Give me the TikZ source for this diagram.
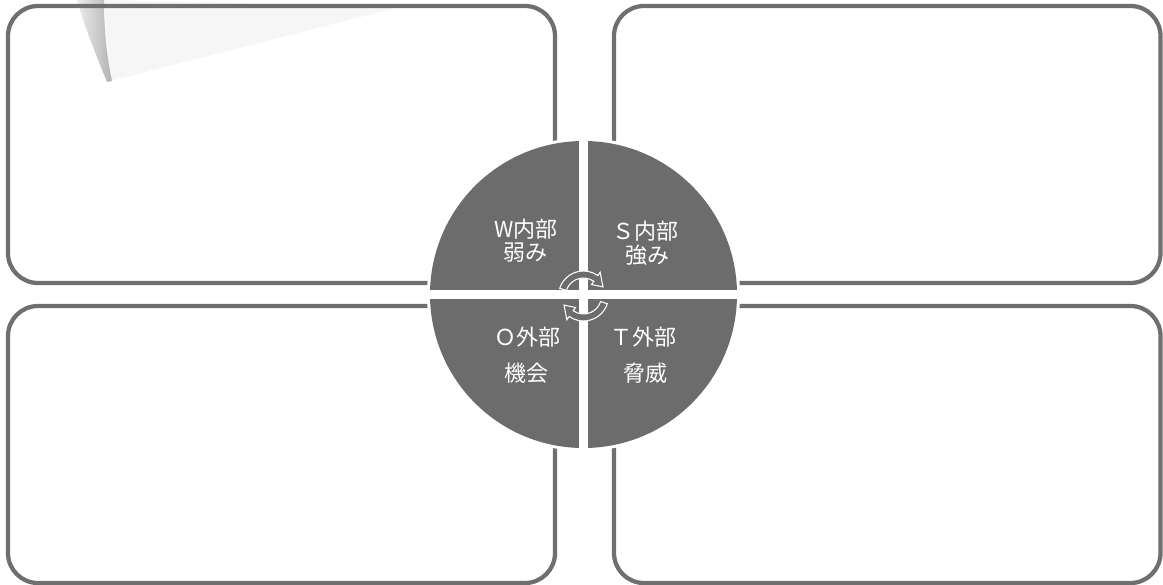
\documentclass[tikz,border=0pt]{standalone}
\usepackage{fontspec}
\newfontfamily\jp{Noto Sans CJK JP}
\definecolor{edgegray}{HTML}{6F6F6F}
\definecolor{secgray}{HTML}{6C6C6C}
\definecolor{curlgray}{HTML}{F6F6F6}
\tikzset{
  panel/.style={draw=edgegray, line width=3.2pt, rounded corners=22.5pt},
  lbl/.style={text=white, inner sep=0pt, font=\jp\fontsize{16.5pt}{20pt}\selectfont},
  cyc/.style={fill=secgray, draw=white, line width=0.8pt, line join=miter}
}
\begin{document}
\begin{tikzpicture}[x=0.75pt,y=-0.75pt]
\useasboundingbox (0,0) rectangle (1163,585);
% page curl artifact
\fill[curlgray] (104,0) -- (400,7) -- (110,81) -- cycle;
\shade[left color=gray!15, right color=gray!60] (77,0) -- (104,0) .. controls (104,30) and (107,58) .. (112,81) -- (107,82) .. controls (96,55) and (84,25) .. (77,0) -- cycle;
% panels
\draw[panel] (8,6) rectangle (555,283);
\draw[panel] (614,6) rectangle (1160.5,283);
\draw[panel] (8,306) rectangle (555,583);
\draw[panel] (614,306) rectangle (1160.5,583);
% central circle
\coordinate (cc) at (583.5,294.5);
\fill[white] (cc) circle[radius=156.5];
\fill[secgray] (cc) circle[radius=153.5];
\coordinate (vt) at (583.5,138);
\coordinate (vb) at (583.5,451);
\coordinate (hl) at (427,294.5);
\coordinate (hr) at (740,294.5);
\draw[white, line width=6.75pt] (vt) -- (vb);
\draw[white, line width=6.75pt] (hl) -- (hr);
% cycle arrows
\coordinate (ac) at (583.5,296);
\path[cyc] ([shift={(198:25)}]ac) arc[start angle=198, end angle=305, radius=25]
  -- ([shift={(305:29)}]ac) -- ([shift={(335:21.5)}]ac) -- ([shift={(305:14)}]ac)
  -- ([shift={(305:18)}]ac) arc[start angle=305, end angle=198, radius=18] -- cycle;
\path[cyc] ([shift={(18:25)}]ac) arc[start angle=18, end angle=125, radius=25]
  -- ([shift={(125:29)}]ac) -- ([shift={(155:21.5)}]ac) -- ([shift={(125:14)}]ac)
  -- ([shift={(125:18)}]ac) arc[start angle=125, end angle=18, radius=18] -- cycle;
% labels
\node[lbl] (w1) at (526,229) {W内部};
\node[lbl] (w2) at (525,253) {弱み};
\node[lbl] (s1) at (645,231) {Ｓ内部};
\node[lbl] (s2) at (647,255) {強み};
\node[lbl] (o1) at (527,337) {Ｏ外部};
\node[lbl] (o2) at (526,373) {機会};
\node[lbl] (t1) at (643,337) {Ｔ外部};
\node[lbl] (t2) at (645,373) {脅威};
\end{tikzpicture}
\end{document}
